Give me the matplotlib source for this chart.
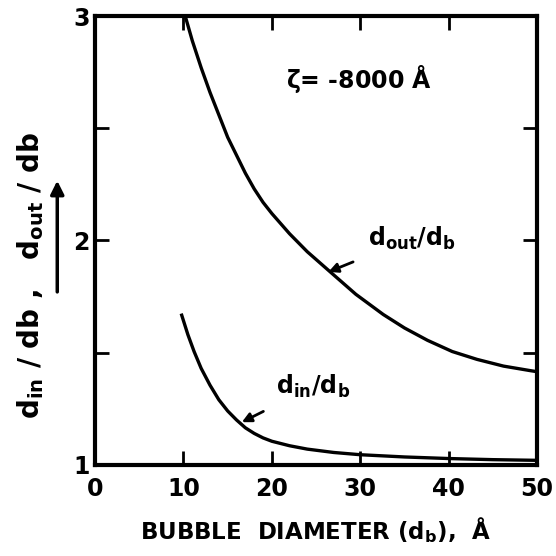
import matplotlib
matplotlib.use("Agg")
import matplotlib.pyplot as plt
from matplotlib.ticker import MultipleLocator

# values (bubble diameter in Angstrom)
d_out_x = [10.2, 11.0, 12.0, 13.0, 14.0, 15.0, 16.0, 17.0, 18.0, 19.0, 20.0, 22.0, 24.0,
           26.6, 29.5, 32.6, 35.0, 37.6, 40.4, 43.2, 46.2, 49.2, 50.0]
d_out_y = [3.00, 2.89, 2.77, 2.66, 2.56, 2.46, 2.38, 2.30, 2.23, 2.17, 2.12, 2.03, 1.95,
           1.86, 1.76, 1.67, 1.61, 1.555, 1.505, 1.47, 1.44, 1.42, 1.415]

d_in_x = [9.8, 10.5, 11.2, 12.0, 13.0, 14.0, 15.0, 16.0, 17.0, 18.0, 19.0, 20.0, 22.0,
          24.0, 27.0, 30.0, 35.0, 40.0, 45.0, 50.0]
d_in_y = [1.667, 1.58, 1.505, 1.43, 1.355, 1.29, 1.24, 1.20, 1.165, 1.14, 1.12, 1.105, 1.085,
          1.07, 1.055, 1.045, 1.035, 1.028, 1.023, 1.02]

x_ticks = [0, 10, 20, 30, 40, 50]
y_ticks = [1, 2, 3]

plt.rcParams['font.family'] = 'DejaVu Sans'
plt.rcParams['font.weight'] = 'bold'
plt.rcParams['mathtext.default'] = 'bf'

fig = plt.figure(figsize=(5.56, 5.56), dpi=100)
ax = fig.add_axes([0.171, 0.164, 0.795, 0.807])

ax.plot(d_out_x, d_out_y, color='black', lw=2.4, solid_joinstyle='round')
ax.plot(d_in_x, d_in_y, color='black', lw=2.4, solid_joinstyle='round')

ax.set_xlim(0, 50)
ax.set_ylim(1, 3)
ax.set_xticks(x_ticks)
ax.set_yticks(y_ticks)
ax.yaxis.set_minor_locator(MultipleLocator(0.5))
ax.tick_params(which='both', direction='in', top=True, right=True,
               width=2, length=10, labelsize=17)
ax.tick_params(axis='x', pad=9)
ax.tick_params(axis='y', pad=4)
for lab in ax.get_xticklabels() + ax.get_yticklabels():
    lab.set_fontweight('bold')
for sp in ax.spines.values():
    sp.set_linewidth(3)

ax.text(29.8, 2.72, r'$\zeta$= -8000 Å', fontsize=17, fontweight='bold',
        ha='center', va='center')

ax.annotate(r'd$_{out}$/d$_b$', xy=(26.4, 1.86), xytext=(35.8, 2.01),
            fontsize=17, fontweight='bold', ha='center', va='center',
            arrowprops=dict(arrowstyle='-|>', color='black', lw=2,
                            mutation_scale=14, shrinkA=14, shrinkB=0))
ax.annotate(r'd$_{in}$/d$_b$', xy=(16.6, 1.19), xytext=(24.7, 1.35),
            fontsize=17, fontweight='bold', ha='center', va='center',
            arrowprops=dict(arrowstyle='-|>', color='black', lw=2,
                            mutation_scale=14, shrinkA=14, shrinkB=0))

ax.set_xlabel('BUBBLE  DIAMETER (d$_b$),  Å', fontsize=16.5, fontweight='bold', labelpad=10)

fig.text(0.055, 0.505, r'd$_{in}$ / db ,   d$_{out}$ / db', rotation=90, fontsize=20,
         fontweight='bold', ha='center', va='center')
fig.add_artist(matplotlib.patches.FancyArrowPatch(
    (0.103, 0.47), (0.103, 0.68), transform=fig.transFigure,
    arrowstyle='-|>', mutation_scale=20, color='black', lw=2.5))

fig.savefig('out.png', dpi=100)
